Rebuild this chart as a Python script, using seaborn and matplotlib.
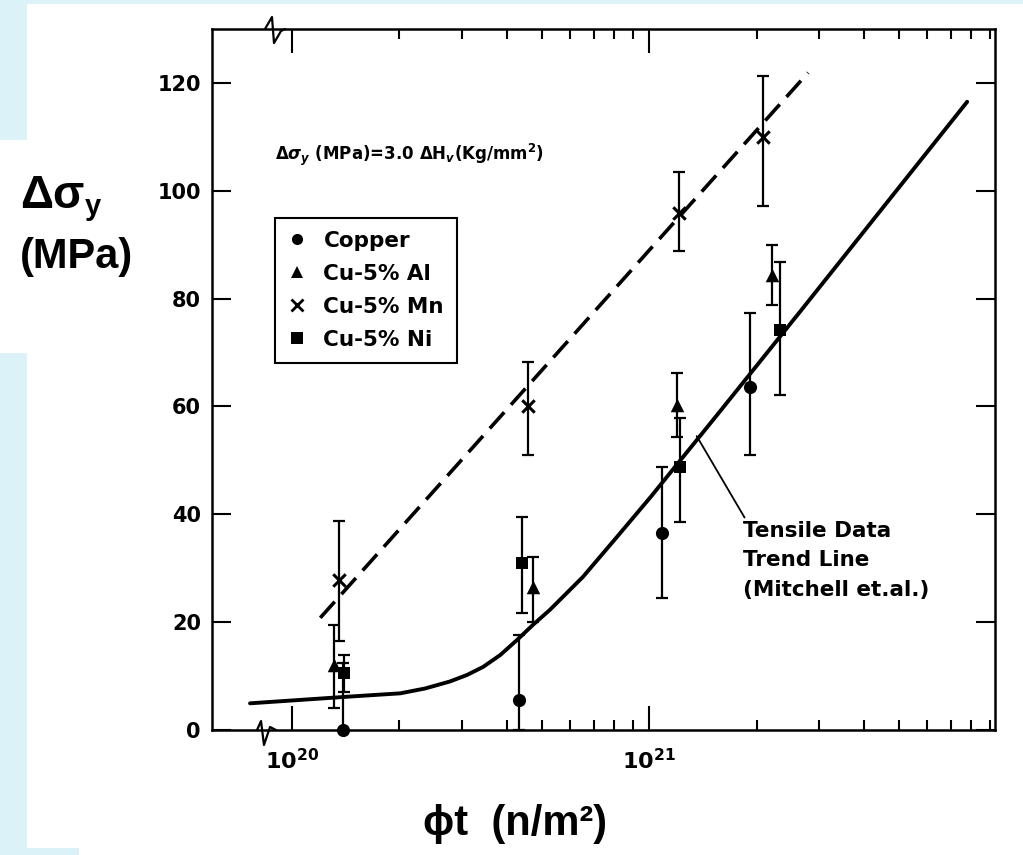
import matplotlib
matplotlib.use("Agg")
import matplotlib.pyplot as plt
import seaborn as sns
from matplotlib.lines import Line2D
from matplotlib.patches import Rectangle
from matplotlib.ticker import FixedLocator, NullFormatter

# values: fluence (n/m^2) vs delta sigma_y (MPa)
cu_x = [1.39e20, 4.32e20, 1.09e21, 1.92e21]
cu_y = [0.0, 5.6, 36.5, 63.6]
cu_lo = [0.0, 0.0, 24.5, 51.0]
cu_hi = [12.4, 17.6, 48.8, 77.4]

al_x = [1.31e20, 4.73e20, 1.20e21, 2.21e21]
al_y = [12.0, 26.5, 60.3, 84.4]
al_lo = [4.1, 20.0, 54.4, 78.8]
al_hi = [19.5, 32.1, 66.2, 90.0]

mn_x = [1.35e20, 4.58e20, 1.21e21, 2.09e21]
mn_y = [27.8, 60.0, 95.9, 110.0]
mn_lo = [16.5, 51.0, 88.9, 97.2]
mn_hi = [38.8, 68.3, 103.5, 121.3]

ni_x = [1.40e20, 4.41e20, 1.22e21, 2.33e21]
ni_y = [10.6, 31.0, 48.8, 74.2]
ni_lo = [7.0, 21.7, 38.6, 62.2]
ni_hi = [13.9, 39.5, 57.9, 86.8]

# tensile data trend line (Mitchell et al.), traced
trend_x = [7.63e19, 1.45e20, 2.01e20, 2.36e20, 2.77e20, 3.09e20, 3.43e20, 3.83e20,
           4.27e20, 4.73e20, 5.28e20, 6.53e20, 8.13e20, 1.01e21, 1.55e21, 2.65e21, 7.78e21]
trend_y = [4.95, 6.2, 6.8, 7.7, 9.0, 10.2, 11.7, 13.9,
           16.7, 19.5, 22.3, 28.4, 35.8, 43.2, 58.4, 77.6, 116.5]

# hardness-derived line (dashed)
hard_x = [1.20e20, 2.79e21]
hard_y = [20.8, 121.9]

series = [
    ("Copper", cu_x, cu_y, cu_lo, cu_hi, "o", 90),
    ("Cu-5% Al", al_x, al_y, al_lo, al_hi, "^", 95),
    ("Cu-5% Mn", mn_x, mn_y, mn_lo, mn_hi, "x", 80),
    ("Cu-5% Ni", ni_x, ni_y, ni_lo, ni_hi, "s", 65),
]

sns.set_theme(style="ticks")
plt.rcParams["font.family"] = ["DejaVu Sans"]
plt.rcParams.update({
    "text.color": "black", "axes.labelcolor": "black",
    "xtick.color": "black", "ytick.color": "black",
    "mathtext.fontset": "custom",
    "mathtext.rm": "DejaVu Sans:bold",
    "mathtext.it": "DejaVu Sans:bold:italic",
    "mathtext.bf": "DejaVu Sans:bold",
})

W, H = 1023, 855
fig = plt.figure(figsize=(W / 100, H / 100), dpi=100)
fig.patch.set_facecolor("white")

# light blue slide background pieces
blue = "#dbf3f8"
for (x0, y0, w, h) in [(0, 0, W, 4), (0, 0, 27, 140), (0, 353, 27, 502), (0, 848, 79, 7)]:
    fig.add_artist(Rectangle((x0 / W, 1 - (y0 + h) / H), w / W, h / H,
                             transform=fig.transFigure, color=blue, lw=0, zorder=0))

ax = fig.add_axes([212 / W, 1 - 730 / H, 783 / W, 701 / H])
ax.set_facecolor("white")
ax.set_xscale("log")

sns.lineplot(x=trend_x, y=trend_y, ax=ax, color="black", lw=2.8, sort=False)
sns.lineplot(x=hard_x, y=hard_y, ax=ax, color="black", lw=2.6)
ax.lines[-1].set_dashes((6, 2.8))

for name, xs, ys, lo, hi, mk, sz in series:
    err = [[y - l for y, l in zip(ys, lo)], [h - y for y, h in zip(ys, hi)]]
    ax.errorbar(xs, ys, yerr=err, fmt="none", ecolor="black", elinewidth=1.6,
                capsize=4.5, capthick=1.6, clip_on=False, zorder=3)
    if mk == "x":
        sns.scatterplot(x=xs, y=ys, ax=ax, marker=mk, s=sz, color="black",
                        linewidth=2.2, clip_on=False, zorder=4)
    else:
        sns.scatterplot(x=xs, y=ys, ax=ax, marker=mk, s=sz, color="black",
                        edgecolor="black", linewidth=0, clip_on=False, zorder=4)

ax.set_xlim(5.97e19, 9.31e21)
ax.set_ylim(0, 130)

ax.set_yticks([0, 20, 40, 60, 80, 100, 120])
ax.set_xticks([1e20, 1e21])
ax.set_xticklabels([r"$10^{20}$", r"$10^{21}$"])
ax.xaxis.set_minor_locator(FixedLocator([k * 1e20 for k in range(2, 10)] +
                                        [k * 1e21 for k in range(2, 10)]))
ax.xaxis.set_minor_formatter(NullFormatter())

ax.tick_params(axis="x", which="major", direction="in", length=17, width=1.5,
               top=True, bottom=True, pad=13, labelsize=16)
ax.tick_params(axis="x", which="minor", direction="in", length=7, width=1.5,
               top=True, bottom=True)
ax.tick_params(axis="y", which="major", direction="in", length=14, width=1.5,
               left=True, right=True, pad=8, labelsize=15)
for lbl in ax.get_yticklabels():
    lbl.set_fontweight("bold")
for sp in ax.spines.values():
    sp.set_visible(True)
    sp.set_linewidth(1.8)
    sp.set_color("black")

# axis break zigzags
ax.plot([0.0575, 0.0626, 0.0664, 0.0741, 0.0817], [0, 0.0128, -0.0214, 0.0043, 0],
        transform=ax.transAxes, color="black", lw=1.6, clip_on=False)
ax.plot([0.0677, 0.0766, 0.0792, 0.0881, 0.0932], [1.0, 1.0171, 0.98, 0.9971, 1.0],
        transform=ax.transAxes, color="black", lw=1.6, clip_on=False)

ax.text(0.080, 0.820, r"$\Delta\sigma_y$ (MPa)=3.0 $\Delta$H$_v$(Kg/mm$^2$)",
        transform=ax.transAxes, fontsize=12, fontweight="bold", va="center", ha="left")

ax.annotate("Tensile Data\nTrend Line\n(Mitchell et.al.)",
            xy=(1.36e21, 54.5), xytext=(1.83e21, 38.8), ha="left", va="top",
            fontsize=15.5, fontweight="bold", linespacing=1.6,
            arrowprops=dict(arrowstyle="-", lw=1.3, color="black",
                            shrinkA=0, shrinkB=0, relpos=(0.02, 1.0)))

handles = [Line2D([], [], ls="none", marker=mk, color="black", markersize=8,
                  markeredgewidth=2 if mk == "x" else 0)
           for _, _, _, _, _, mk, _ in series]
leg = ax.legend(handles, [s[0] for s in series], loc="upper left",
                bbox_to_anchor=((275 - 212) / 783, (730 - 218) / 701), borderaxespad=0,
                prop=dict(size=15.5, weight="bold"), handlelength=0.8,
                handletextpad=0.85, borderpad=0.6, labelspacing=0.6,
                fancybox=False, framealpha=1, edgecolor="black")
leg.get_frame().set_linewidth(1.5)

# axis titles as slide text
lab = dict(family=["Liberation Sans", "DejaVu Sans"], weight="bold", color="black")
fig.text(20 / W, 1 - 208 / H, "\u0394\u03c3", fontsize=33, ha="left", va="baseline", **lab)
fig.text(85 / W, 1 - 215 / H, "y", fontsize=21, ha="left", va="baseline", **lab)
fig.text(20 / W, 1 - 268 / H, "(MPa)", fontsize=30, ha="left", va="baseline", **lab)
fig.text(515 / W, 1 - 835 / H, "\u03d5t  (n/m\u00b2)", fontsize=30, ha="center",
         va="baseline", **lab)

fig.savefig("out.png", dpi=100, facecolor="white")
